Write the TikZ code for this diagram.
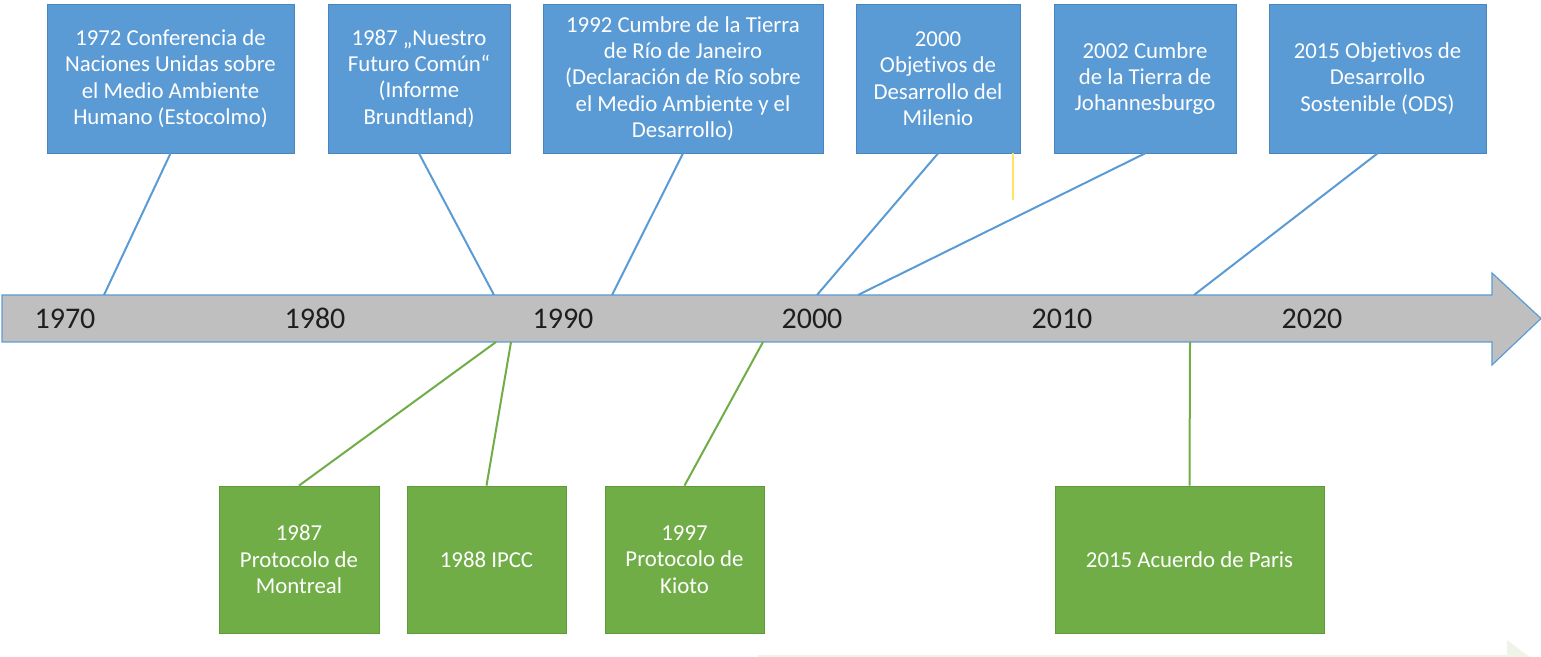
\documentclass[tikz,border=0pt]{standalone}
\usepackage{fontspec}
\setmainfont[Ligatures={NoCommon,NoContextual}]{Carlito}
\definecolor{boxblue}{HTML}{5B9BD5}
\definecolor{boxblueedge}{HTML}{4A86BE}
\definecolor{boxgreen}{HTML}{70AD47}
\definecolor{boxgreenedge}{HTML}{5E9A3A}
\definecolor{bargray}{HTML}{BFBFBF}
\definecolor{yeartext}{HTML}{1E1E1E}
\definecolor{faintgreen}{HTML}{EEF5E8}
\definecolor{artifactyellow}{HTML}{FFE45C}
\tikzset{
  evbox/.style={draw, line width=0.4pt, inner sep=0pt, align=center, text=white,
    font=\fontsize{11.4}{13.2}\selectfont},
  bluebox/.style={evbox, fill=boxblue, draw=boxblueedge, minimum height=74.5pt},
  greenbox/.style={evbox, fill=boxgreen, draw=boxgreenedge, minimum height=73.5pt},
  blueline/.style={draw=boxblue, line width=1pt},
  greenline/.style={draw=boxgreen, line width=1pt},
  yearlabel/.style={font=\fontsize{15}{18}\selectfont, text=yeartext, inner sep=0pt, anchor=base},
  timebar/.style={fill=bargray, draw=boxblue, line width=0.6pt, line join=miter},
}
\begin{document}
\begin{tikzpicture}[x=0.5pt,y=-0.5pt]
\useasboundingbox (0,0) rectangle (1541,657);
\begin{scope}
  \clip (0,0) rectangle (1541,657);
  \fill[faintgreen] (758,657) -- (758,655) -- (1507,655) -- (1507,640) -- (1560,680) -- (758,680) -- cycle;
\end{scope}

% timeline arrow
\draw[timebar] (2,295) -- (1492,295) -- (1492,273) -- (1541,318.5) -- (1492,365) -- (1492,342) -- (2,342) -- cycle;

% year labels
\node[yearlabel] (y1970) at (65,329) {1970};
\node[yearlabel] (y1980) at (315,329) {1980};
\node[yearlabel] (y1990) at (563,329) {1990};
\node[yearlabel] (y2000) at (812,329) {2000};
\node[yearlabel] (y2010) at (1062,329) {2010};
\node[yearlabel] (y2020) at (1312,329) {2020};

% anchor points on the bar
\coordinate (t1) at (104,295);
\coordinate (t2) at (494,295);
\coordinate (t3) at (612,295);
\coordinate (t4) at (817,295);
\coordinate (t5) at (858,295);
\coordinate (t6) at (1194,295);
\coordinate (u1) at (496,342);
\coordinate (u2) at (511,342);
\coordinate (u3) at (763,342);
\coordinate (u4) at (1190,342);

% upper boxes
\node[bluebox, minimum width=123.5pt] (b1) at (170.5,78.5)
  {1972 Conferencia de\\Naciones Unidas sobre\\el Medio Ambiente\\Humano (Estocolmo)};
\node[bluebox, minimum width=91pt] (b2) at (419,78.5)
  {1987 „Nuestro\\Futuro Común“\\(Informe\\Brundtland)};
\node[bluebox, minimum width=140pt] (b3) at (683,78.5)
  {1992 Cumbre de la Tierra\\de Río de Janeiro\\(Declaración de Río sobre\\el Medio Ambiente y el\\Desarrollo)};
\node[bluebox, minimum width=82pt] (b4) at (938,78.5)
  {2000\\Objetivos de\\Desarrollo del\\Milenio};
\node[bluebox, minimum width=91pt] (b5) at (1145,78.5)
  {2002 Cumbre\\de la Tierra de\\Johannesburgo};
\node[bluebox, minimum width=108.5pt] (b6) at (1377.5,78.5)
  {2015 Objetivos de\\Desarrollo\\Sostenible (ODS)};

% lower boxes
\node[greenbox, minimum width=80pt] (g1) at (299,559.5)
  {1987\\Protocolo de\\Montreal};
\node[greenbox, minimum width=79.5pt] (g2) at (486.5,559.5)
  {1988 IPCC};
\node[greenbox, minimum width=79.5pt] (g3) at (684.5,559.5)
  {1997\\Protocolo de\\Kioto};
\node[greenbox, minimum width=134.5pt] (g4) at (1189.5,559.5)
  {2015 Acuerdo de Paris};

% connectors
\draw[blueline] (b1.south) -- (t1);
\draw[blueline] (b2.south) -- (t2);
\draw[blueline] (b3.south) -- (t3);
\draw[blueline] (b4.south) -- (t4);
\draw[blueline] (b5.south) -- (t5);
\draw[blueline] (b6.south) -- (t6);
\draw[greenline] (g1.north) -- (u1);
\draw[greenline] (g2.north) -- (u2);
\draw[greenline] (g3.north) -- (u3);
\draw[greenline] (g4.north) -- (u4);

% thin yellow mark under the 2000 box
\coordinate (yl) at (1013,200);
\draw[artifactyellow, line width=0.7pt] (b4.south east -| yl) -- (yl);
\end{tikzpicture}
\end{document}
